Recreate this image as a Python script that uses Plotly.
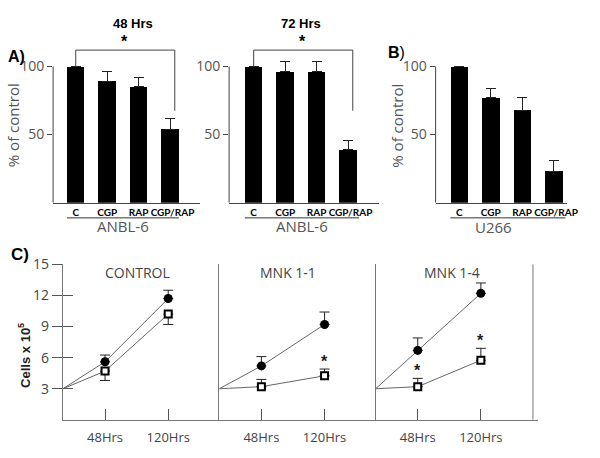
import plotly.graph_objects as go

W, H = 600, 458
def fx(p): return p / W
def fy(p): return 1 - p / H

# ---------------- data ----------------
categories = ["C", "CGP", "RAP", "CGP/RAP"]
category_labels = ["C", "CGP", "RAP", "\u00a0\u00a0CGP/RAP"]
a48_values = [100, 89, 85, 54]
a48_err = [None, 7, 7, 8]
a72_values = [100, 96, 96, 39]
a72_err = [None, 8, 8, 7]
b_values = [100, 77, 68, 23]
b_err = [None, 7, 9, 8]

hours = [0, 48, 120]
ctrl_circle = [3, 5.6, 11.7]
ctrl_circle_err = [0.65, 0.8]
ctrl_square = [3, 4.7, 10.2]
ctrl_square_err_down = [0.9, 1.0]
mnk11_circle = [3, 5.2, 9.2]
mnk11_circle_err = [0.9, 1.2]
mnk11_square = [3, 3.2, 4.25]
mnk11_square_err = [0.7, 0.65]
mnk14_circle = [3, 6.7, 12.2]
mnk14_circle_err = [1.2, 1.0]
mnk14_square = [3, 3.2, 5.75]
mnk14_square_err = [0.8, 1.15]

y_ticks_c = [3, 6, 9, 12, 15]
x_ticks_c = [48, 120]
x_ticklabels_c = ["48Hrs", "120Hrs"]

FONT = "Open Sans"
GRAY = "#444"
fig = go.Figure()

# ---------------- bar panels ----------------
bar_panels = [
    ("x", "y", a48_values, a48_err),
    ("x2", "y2", a72_values, a72_err),
    ("x3", "y3", b_values, b_err),
]
for xa, ya, vals, errs in bar_panels:
    fig.add_trace(go.Bar(
        x=categories, y=vals, xaxis=xa, yaxis=ya, width=0.56,
        marker=dict(color="black", line=dict(width=0)),
        error_y=dict(type="data", array=errs, arrayminus=[0] * 4, symmetric=False,
                     color="#222", thickness=1, width=5),
        showlegend=False, hoverinfo="skip"))

def bar_xaxis(dom, rng):
    return dict(domain=[fx(dom[0]), fx(dom[1])], range=rng, type="category",
                tickvals=categories, ticktext=category_labels,
                showline=True, linecolor="#444", linewidth=1, ticks="", tickangle=0,
                tickfont=dict(family="Lato", size=10, color="black", weight="bold"),
                showgrid=False, zeroline=False, fixedrange=True)

def bar_yaxis(anchor, labels=True):
    return dict(domain=[fy(197), fy(2)], range=[0, 140], anchor=anchor,
                showline=False, tickvals=[50, 100], ticks="outside", ticklen=5,
                tickcolor="#444", showticklabels=labels,
                tickfont=dict(family=FONT, size=14, color="#555"),
                showgrid=False, zeroline=False)

fig.update_layout(
    xaxis=bar_xaxis((54, 203), [-0.72, 3.94]) | dict(anchor="y"),
    yaxis=bar_yaxis("x"),
    xaxis2=bar_xaxis((233, 385), [-0.78, 3.97]) | dict(anchor="y2"),
    yaxis2=bar_yaxis("x2"),
    xaxis3=bar_xaxis((443, 577), [-0.75, 3.44]) | dict(anchor="y3"),
    yaxis3=bar_yaxis("x3"),
)

shapes = []
annotations = []
for xa, ya, vals, ul in [("x", "y", a48_values, (-0.28, 3.28)),
                         ("x2", "y2", a72_values, (-0.28, 3.35)),
                         ("x3", "y3", b_values, (-0.28, 3.38))]:
    # y axis line up to 100
    shapes.append(dict(type="line", xref=f"{xa} domain", yref=ya, x0=0, x1=0,
                       y0=0, y1=100, line=dict(color="#444", width=1)))
    # underline below category labels
    shapes.append(dict(type="line", xref=xa, yref="paper", x0=ul[0], x1=ul[1],
                       y0=fy(212.5), y1=fy(212.5), line=dict(color="#333", width=1)))

# significance brackets (A panels)
for xa, ya, vals in [("x", "y", a48_values), ("x2", "y2", a72_values)]:
    shapes.append(dict(type="path", xref=xa, yref=ya,
                       path=f"M 0,{vals[0]} L 0,112 L 3.15,112 L 3.15,67.5",
                       line=dict(color="#444", width=1)))
    annotations.append(dict(x=1.55, y=118, xref=xa, yref=ya, text="<b>*</b>",
                            showarrow=False, font=dict(family="Liberation Sans", size=16, color="black")))

def ann(x, y, text, size, color=GRAY, bold=False, angle=0, family=FONT, xanchor="center"):
    annotations.append(dict(x=fx(x), y=fy(y), xref="paper", yref="paper",
                            text=f"<b>{text}</b>" if bold else text, showarrow=False,
                            textangle=angle, xanchor=xanchor, yanchor="middle",
                            font=dict(family=family, size=size, color=color)))

ann(135, 14, "48 Hrs", 13, "black", True, family="Liberation Sans")
ann(306, 14, "72 Hrs", 13, "black", True, family="Liberation Sans")
ann(17, 48, "A)", 16, "black", True, family="Liberation Sans")
ann(403, 43, "<b>B</b>)", 16, "black", False, family="Liberation Sans")
ann(14, 118, "% of control", 15, "#555", angle=-90)
ann(404, 118, "% of control", 15, "#555", angle=-90)
ann(125, 221, "ANBL-6", 15, "#555")
ann(307, 221, "ANBL-6", 15, "#555")
ann(502, 222, "U266", 15, "#555")

# ---------------- panel C ----------------
c_panels = [
    ("x4", "y4", ctrl_circle, ctrl_circle_err, ctrl_square, ctrl_square_err_down, True),
    ("x5", "y5", mnk11_circle, mnk11_circle_err, mnk11_square, mnk11_square_err, False),
    ("x6", "y6", mnk14_circle, mnk14_circle_err, mnk14_square, mnk14_square_err, False),
]
for xa, ya, circ, circ_e, sq, sq_e, sq_down in c_panels:
    for series in (circ, sq):
        fig.add_trace(go.Scatter(x=hours, y=series, xaxis=xa, yaxis=ya, mode="lines",
                                 line=dict(color="#666", width=1), showlegend=False,
                                 hoverinfo="skip", cliponaxis=False))
    fig.add_trace(go.Scatter(
        x=hours[1:], y=circ[1:], xaxis=xa, yaxis=ya, mode="markers",
        marker=dict(symbol="circle", size=9, color="black"),
        error_y=dict(type="data", array=circ_e, arrayminus=[0, 0], symmetric=False,
                     color="#222", thickness=1, width=5),
        showlegend=False, hoverinfo="skip", cliponaxis=False))
    if sq_down:
        ey = dict(type="data", array=[0, 0], arrayminus=sq_e, symmetric=False,
                  color="#222", thickness=1, width=5)
    else:
        ey = dict(type="data", array=sq_e, arrayminus=[0, 0], symmetric=False,
                  color="#222", thickness=1, width=5)
    fig.add_trace(go.Scatter(
        x=hours[1:], y=sq[1:], xaxis=xa, yaxis=ya, mode="markers",
        marker=dict(symbol="square", size=7, color="white", line=dict(color="black", width=2)),
        error_y=ey, showlegend=False, hoverinfo="skip", cliponaxis=False))

# invisible trace for overlay axis (inside ticks)
fig.add_trace(go.Scatter(x=[0], y=[0], xaxis="x4", yaxis="y7", mode="markers",
                         marker=dict(opacity=0), showlegend=False, hoverinfo="skip"))

def c_xaxis(dom, rng, anchor):
    return dict(domain=[fx(dom[0]), fx(dom[1])], range=rng, anchor=anchor,
                showline=True, linecolor="#777", linewidth=1,
                tickvals=x_ticks_c, ticktext=x_ticklabels_c, ticks="inside", ticklen=11,
                tickcolor="#555", ticklabelstandoff=6,
                tickfont=dict(family=FONT, size=13, color=GRAY),
                showgrid=False, zeroline=False)

c_ydom = [fy(419), fy(260)]
fig.update_layout(
    xaxis4=c_xaxis((64, 223), [0, 178.2], "y4"),
    xaxis5=c_xaxis((223, 382), [0, 178.2], "y5"),
    xaxis6=c_xaxis((382, 547), [0, 185], "y6"),
    yaxis4=dict(domain=c_ydom, range=[0, 15], anchor="x4", showline=True, linecolor="#777",
                tickvals=y_ticks_c, ticks="outside", ticklen=10, tickcolor="#555",
                tickfont=dict(family=FONT, size=14, color=GRAY),
                showgrid=False, zeroline=False),
    yaxis7=dict(domain=c_ydom, range=[0, 15], anchor="x4", overlaying="y4",
                showline=False, tickvals=y_ticks_c, ticks="inside", ticklen=10,
                tickcolor="#555", showticklabels=False, showgrid=False, zeroline=False),
    yaxis5=dict(domain=c_ydom, range=[0, 15], anchor="x5", showline=True, linecolor="#777",
                ticks="", showticklabels=False, showgrid=False, zeroline=False),
    yaxis6=dict(domain=c_ydom, range=[0, 15], anchor="x6", showline=True, linecolor="#777",
                ticks="", showticklabels=False, showgrid=False, zeroline=False),
)

# right border line of the last panel
shapes.append(dict(type="line", xref="paper", yref="y6", x0=fx(542), x1=fx(542),
                   y0=0, y1=15, line=dict(color="#777", width=1)))

# stars in panel C
for xa, ya, sq, sq_e, idx in [("x5", "y5", mnk11_square, mnk11_square_err, 1),
                              ("x6", "y6", mnk14_square, mnk14_square_err, 0),
                              ("x6", "y6", mnk14_square, mnk14_square_err, 1)]:
    annotations.append(dict(x=hours[idx + 1], y=sq[idx + 1] + sq_e[idx] + 0.75, xref=xa, yref=ya,
                            text="<b>*</b>", showarrow=False,
                            font=dict(family="Liberation Sans", size=16, color="#222")))

ann(140, 268, "CONTROL", 14)
ann(293, 268, "MNK 1-1", 14)
ann(460, 268, "MNK 1-4", 14)
ann(20, 250, "C)", 17, "black", True, family="Liberation Sans")
ann(25, 353, "Cells x 10<sup>5</sup>", 13, "#222", True, angle=-90, family="Liberation Sans")

fig.update_layout(
    width=W, height=H, margin=dict(l=0, r=0, t=0, b=0),
    paper_bgcolor="white", plot_bgcolor="white",
    shapes=shapes, annotations=annotations, bargap=0,
)
fig.write_html("out.html", config={"displayModeBar": False, "responsive": False},
               post_script="document.documentElement.style.margin='0';"
                           "document.body.style.margin='0';document.body.style.overflow='hidden';"
                           "var d=document.getElementById('{plot_id}');"
                           "d.style.position='fixed';d.style.top='0px';d.style.left='0px';")
